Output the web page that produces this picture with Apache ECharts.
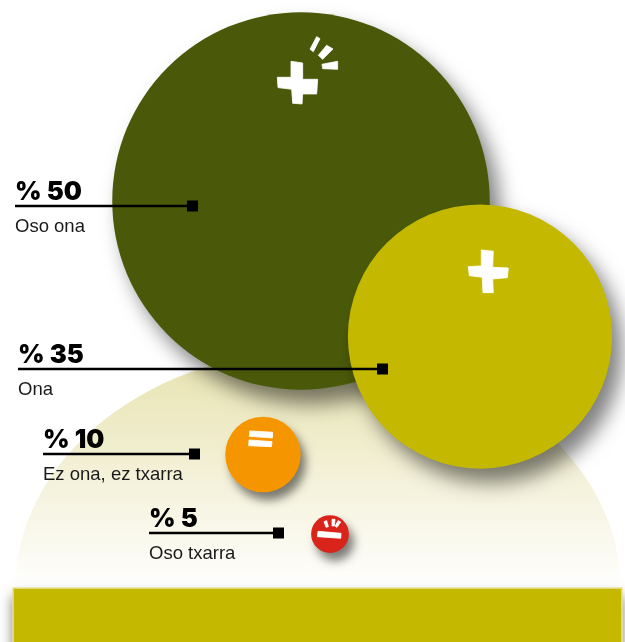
<!DOCTYPE html>
<html>
<head>
<meta charset="utf-8">
<style>
html, body { margin: 0; padding: 0; background: #fff; }
#chart { width: 625px; height: 642px; }
</style>
<script src="https://cdn.jsdelivr.net/npm/echarts@6/dist/echarts.min.js"></script>
</head>
<body>
<div id="chart"></div>
<script>
// values
const percents = [50, 35, 10, 5]
const answers = ['Oso ona', 'Ona', 'Ez ona, ez txarra', 'Oso txarra']

// where things sit, in axis units (axes run 0-625 and 0-642)
const bubbleX = [301, 480, 263, 330]
const bubbleY = [201, 336.5, 454.5, 534]
const leaderStart = [15, 18, 43, 149]
const leaderEnd = [192.5, 382.5, 194.5, 278.5]
const leaderY = [206, 369, 454, 533]

const colors = ['#4a5909', '#c4b900', '#f59600', '#d9241c']
const sizePerPercent = 7.55

// white signs on the bubbles
const plusTicks = 'path://M93 124L128 129L128 178L173 178L170 222L128 222L126 252L98 250L95 208L54 203L52 172L93 172Z' +
	'M170 50L180 56L160 95L150 88ZM200 76L219 87L188 118L175 106ZM233 124L233 148L188 146L186 133Z'
const plusOnly = 'path://M124 60L160 64L158 112L205 114L202 143L158 147L160 188L129 188L127 142L88 137L85 110L124 108Z'
const equalSign = 'path://M659 63L728 67L727 84L658 79ZM657 90L726 95L724 110L656 107Z'
const minusTicks = 'path://M864 364L933 370L932 385L862 380ZM882 335L890 332L895 350L888 352ZM906 328L915 328L913 348L906 348ZM924 332L932 336L921 352L915 349Z'
const glyphs = [plusTicks, plusOnly, equalSign, minusTicks]
const glyphX = [307.5, 488.3, 260.7, 329.2]
const glyphY = [70.3, 271.3, 438.8, 528.8]
const glyphSize = [[60.3, 67.3], [40, 42.7], [24, 15.7], [23.7, 19]]

let chart = echarts.init(document.getElementById('chart'))

function renderLeader(params, api) {
	let i = params.dataIndex
	let a = api.coord([leaderStart[i], leaderY[i]])
	let b = api.coord([leaderEnd[i], leaderY[i]])
	return {
		type: 'group',
		children: [
			{
				type: 'line',
				shape: { x1: a[0], y1: a[1], x2: b[0], y2: b[1] },
				style: { stroke: '#000', lineWidth: 2.5 },
			},
			{
				type: 'rect',
				shape: { x: b[0] - 5.5, y: b[1] - 5.5, width: 11, height: 11 },
				style: { fill: '#000' },
			},
			{
				type: 'text',
				x: a[0],
				y: a[1] - 1,
				style: {
					text: '% ' + percents[i],
					fill: '#000',
					font: '900 25.5px Inter',
					textAlign: 'left',
					textVerticalAlign: 'bottom',
				},
			},
			{
				type: 'text',
				x: a[0],
				y: a[1] + 21,
				style: {
					text: answers[i],
					fill: '#1a1a1a',
					font: '18.5px "Liberation Sans"',
					textAlign: 'left',
					textVerticalAlign: 'middle',
				},
			},
		],
	}
}

let option = {
	animation: false,
	backgroundColor: '#fff',
	grid: { left: 0, right: 0, top: 0, bottom: 0 },
	xAxis: { type: 'value', min: 0, max: 625, show: false },
	yAxis: { type: 'value', min: 0, max: 642, inverse: true, show: false },
	graphic: [
		{
			type: 'rect',
			z: 3,
			shape: { x: 13, y: 588, width: 609, height: 60 },
			style: {
				fill: '#c4b900',
				shadowBlur: 12,
				shadowOffsetY: 8,
				shadowColor: 'rgba(0,0,0,0.55)',
			},
		},
		{
			type: 'polyline',
			z: 3,
			shape: { points: [[13, 642], [13, 588], [622, 588], [622, 642]] },
			style: { stroke: '#e6e2a0', lineWidth: 1.5, fill: null },
		},
	],
	series: [
		{
			// the pale dome behind the bubbles
			type: 'scatter',
			z: 1,
			silent: true,
			symbol: 'circle',
			symbolSize: [606, 480],
			data: [[318, 590]],
			itemStyle: {
				opacity: 1,
				color: {
					type: 'linear',
					x: 0, y: 0, x2: 0, y2: 0.5,
					colorStops: [
						{ offset: 0, color: '#e7e2ae' },
						{ offset: 1, color: '#ffffff' },
					],
				},
			},
		},
		{
			type: 'scatter',
			z: 2,
			silent: true,
			symbol: 'circle',
			symbolSize: function (val) {
				return val[2] * sizePerPercent
			},
			data: percents.map(function (p, i) {
				return {
					value: [bubbleX[i], bubbleY[i], p],
					itemStyle: {
						opacity: 1,
						color: colors[i],
						shadowBlur: i < 2 ? 20 : 10,
						shadowOffsetX: i < 2 ? 10 : 5,
						shadowOffsetY: i < 2 ? 14 : 8,
						shadowColor: 'rgba(0,0,0,0.5)',
					},
				}
			}),
		},
		{
			type: 'scatter',
			z: 4,
			silent: true,
			data: glyphs.map(function (g, i) {
				return {
					value: [glyphX[i], glyphY[i]],
					symbol: g,
					symbolSize: glyphSize[i],
					itemStyle: { color: '#fff', opacity: 1, borderColor: '#fff', borderWidth: 0.8 },
				}
			}),
		},
		{
			type: 'custom',
			z: 5,
			silent: true,
			renderItem: renderLeader,
			data: percents,
		},
	],
}

chart.setOption(option)
window.addEventListener('resize', function () {
	chart.resize()
})
</script>
</body>
</html>
